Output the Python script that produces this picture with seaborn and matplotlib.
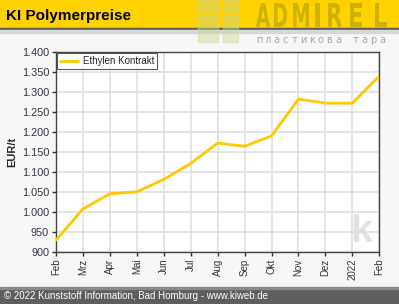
import numpy as np
import pandas as pd
import matplotlib
matplotlib.use("Agg")
import matplotlib.pyplot as plt
import seaborn as sns
from matplotlib.patches import Rectangle, PathPatch
from matplotlib.textpath import TextPath
from matplotlib.font_manager import FontProperties
from matplotlib.transforms import Affine2D

# data (EUR/t)
months = ["Feb", "Mrz", "Apr", "Mai", "Jun", "Jul", "Aug", "Sep", "Okt", "Nov", "Dez", "2022", "Feb"]
ethylen = [929, 1007, 1045, 1050, 1081, 1121, 1172, 1164, 1190, 1282, 1272, 1272, 1340]
yticks = [900, 950, 1000, 1050, 1100, 1150, 1200, 1250, 1300, 1350, 1400]

sns.set_style("white")
plt.rcParams["font.family"] = ["Liberation Sans", "DejaVu Sans"]

df = pd.DataFrame({"x": np.arange(len(months)), "y": ethylen})

W, H = 399, 304
fig = plt.figure(figsize=(3.99, 3.04), dpi=100, facecolor="#f7f7f7")
px = Affine2D().scale(1 / W, 1 / H) + fig.transFigure  # pixel coords, origin bottom-left


def box(x0, ytop, w, h, **kw):
    fig.patches.append(Rectangle((x0, H - ytop - h), w, h, transform=px, **kw))


# header bar
box(0, 0, W, 28, color="#ffd200", zorder=0)
box(0, 28, W, 2, color="#5a5a5a", zorder=0)
box(0, 30, W, 3, color="#d8d8d8", zorder=0)
# footer bar
box(0, 288, W, 16, color="#5e5e5e", zorder=0)
box(0, 287, W, 1.5, color="#8a8a8a", zorder=0)

# watermark logo blocks
for (x0, y0, w, h) in [(198, 0, 20, 12), (223, 0, 15, 12), (198, 16, 20, 26), (223, 16, 15, 26)]:
    box(x0, y0, w, h, color="#c8d890", alpha=0.45, zorder=1)

# tall condensed "ADMIREL" watermark letters
fp = FontProperties(family="DejaVu Sans", weight="bold")
letters = [("A", 256, 14), ("D", 274, 13), ("M", 293, 16), ("I", 315, 5),
           ("R", 328, 14), ("E", 350, 12), ("L", 375, 12)]
for ch, lx, lw in letters:
    tp = TextPath((0, 0), ch, size=1, prop=fp)
    bb = tp.get_extents()
    tr = (Affine2D().translate(-bb.x0, -bb.y0)
          .scale(lw / bb.width, 24 / bb.height)
          .translate(lx, H - 27))
    fig.patches.append(PathPatch(tr.transform_path(tp), transform=px, lw=0,
                                 color="#bba300", alpha=0.7, zorder=2))
for i, ch in enumerate("пластикова тара"):
    fig.text((259 + i * 8.8) / W, 1 - 40 / H, ch, ha="center", va="center",
             fontsize=7, color="#a8a8a8", family="DejaVu Sans")

fig.text(6 / W, 1 - 16 / H, "KI Polymerpreise", ha="left", va="center",
         fontsize=11, fontweight="bold", color="black")
fig.text(4 / W, 8 / H, "© 2022 Kunststoff Information, Bad Homburg - www.kiweb.de",
         ha="left", va="center", fontsize=7, color="white")

ax = fig.add_axes([56 / W, 1 - 251.7 / H, (379.3 - 56) / W, (251.7 - 52) / H])
ax.set_facecolor("white")

ax.text(0.945, 0.1, "k", transform=ax.transAxes, ha="center", va="center",
        fontsize=28, fontweight="bold", color="#e2e2e2", zorder=0)

sns.lineplot(data=df, x="x", y="y", ax=ax, color="#ffc800", linewidth=2,
             label="Ethylen Kontrakt", zorder=3)

ax.set_xlim(0, len(months) - 1)
ax.set_ylim(900, 1400)
ax.set_xticks(df["x"])
ax.set_xticklabels(months, rotation=90, fontsize=7, color="#333333")
ax.set_yticks(yticks)
ax.set_yticklabels([f"{v:,}".replace(",", ".") for v in yticks], fontsize=7.8, color="#333344")
ax.set_xlabel("")
ax.set_ylabel("EUR/t", fontsize=8, fontweight="bold", labelpad=3)
ax.grid(True, color="#e0e0e0", linewidth=1.2)
ax.tick_params(axis="both", length=3, width=1, color="#333333", pad=2, direction="out")
ax.tick_params(left=True, bottom=True)
for s in ax.spines.values():
    s.set_color("#444444")
    s.set_linewidth(1)

leg = ax.legend(loc="upper left", fontsize=7, frameon=True, fancybox=False,
                handlelength=1.8, handletextpad=0.5, borderpad=0.3, borderaxespad=0.15)
leg.get_frame().set_edgecolor("#333333")
leg.get_frame().set_linewidth(0.8)

fig.savefig("out.png", dpi=100, facecolor=fig.get_facecolor())
